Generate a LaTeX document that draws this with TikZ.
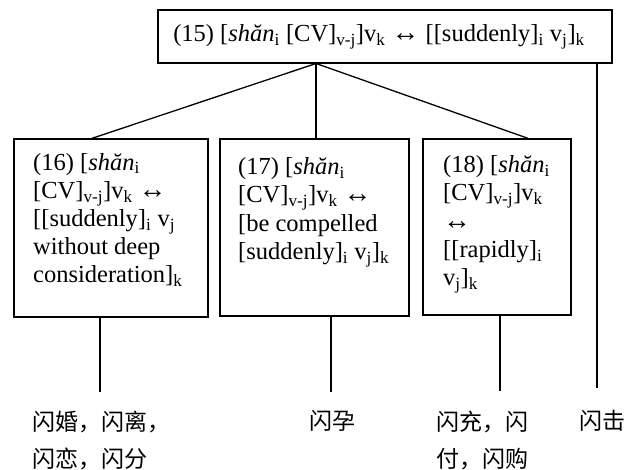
\documentclass[tikz,border=0pt]{standalone}
\usepackage{fontspec}
\setmainfont{Liberation Serif}
\newfontfamily\cjk{Noto Sans CJK SC}
\newcommand{\lra}{{\fontsize{28}{28}\selectfont ↔}}
\begin{document}
\begin{tikzpicture}[x=1pt,y=-1pt,
  boxst/.style={draw,line width=1.3pt,inner sep=0pt},
  txt/.style={inner sep=0pt,align=left,font=\fontsize{24.5}{28.2}\selectfont},
  lbl/.style={inner sep=0pt,align=left,anchor=west,font=\cjk\fontsize{23}{37}\selectfont},
  conn/.style={line width=1.3pt}]
\useasboundingbox (0,0) rectangle (638,470);
% boxes
\node[boxst,minimum width=454pt,minimum height=53pt] (top) at (385,36.5) {};
\node[boxst,minimum width=194pt,minimum height=178pt] (b16) at (111,228) {};
\node[boxst,minimum width=189pt,minimum height=177pt] (b17) at (314.5,227.5) {};
\node[boxst,minimum width=148pt,minimum height=176pt] (b18) at (497,227) {};
% texts
\node[txt] (t15) at ([xshift=-6pt]top) {(15) [\textit{shăn}\textsubscript{i} [CV]\textsubscript{v-j}]v\textsubscript{k} \lra{} [[suddenly]\textsubscript{i} v\textsubscript{j}]\textsubscript{k}};
\node[txt,anchor=north west] (t16) at (33,153) {(16) [\textit{shăn}\textsubscript{i}\\{}[CV]\textsubscript{v-j}]v\textsubscript{k} \lra\\{}[[suddenly]\textsubscript{i} v\textsubscript{j}\\ without deep\\ consideration]\textsubscript{k}};
\node[txt,anchor=north west] (t17) at (238,157.5) {(17) [\textit{shăn}\textsubscript{i}\\{}[CV]\textsubscript{v-j}]v\textsubscript{k} \lra\\{}[be compelled\\{}[suddenly]\textsubscript{i} v\textsubscript{j}]\textsubscript{k}};
\node[txt,anchor=north west] (t18) at (443,155.5) {(18) [\textit{shăn}\textsubscript{i}\\{}[CV]\textsubscript{v-j}]v\textsubscript{k}\\ \lra\\{}[[rapidly]\textsubscript{i}\\ v\textsubscript{j}]\textsubscript{k}};
% connectors from top box
\coordinate (apex) at (316,63.5);
\draw[conn] (apex) -- ([xshift=-19pt]b16.north);
\draw[conn] (apex) -- (apex |- b17.north);
\draw[conn] (apex) -- ([xshift=31pt]b18.north);
% labels
\node[lbl,anchor=north west] (l16) at (32,410.5) {闪婚，闪离，\\闪恋，闪分};
\node[lbl,anchor=north west] (l17) at (309,410.5) {闪孕};
\node[lbl,anchor=north west] (l18) at (436,410.5) {闪充，闪\\付，闪购};
\node[lbl,anchor=north west] (l15) at (579,410.5) {闪击};
% bottom lines
\coordinate (e16) at (100,392);
\coordinate (e17) at (331,392);
\coordinate (e18) at (500,391);
\coordinate (e15) at (597,388);
\draw[conn] (e16 |- b16.south) -- (e16);
\draw[conn] (e17 |- b17.south) -- (e17);
\draw[conn] (e18 |- b18.south) -- (e18);
\draw[conn] (e15 |- top.south) -- (e15);
\end{tikzpicture}
\end{document}
